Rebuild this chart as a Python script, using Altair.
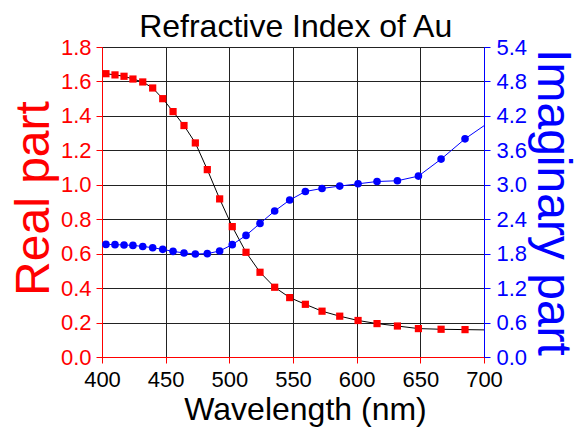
import altair as alt
import pandas as pd

# Wavelength (nm), real part n, imaginary part k
wavelength = [403.1, 410.2, 417.3, 424.3, 432.0, 439.8, 447.7, 455.8, 464.4, 473.3,
              482.7, 492.4, 502.3, 513.1, 524.1, 535.6, 547.4, 559.7, 572.8, 586.7,
              601.1, 616.0, 632.0, 648.5, 666.3, 685.1, 704.0]
real_part = [1.645, 1.638, 1.630, 1.614, 1.597, 1.562, 1.500, 1.425, 1.344, 1.243,
             1.088, 0.918, 0.757, 0.608, 0.492, 0.405, 0.345, 0.306, 0.266, 0.237,
             0.212, 0.194, 0.180, 0.165, 0.161, 0.159, 0.157]
imag_part = [1.961, 1.957, 1.951, 1.944, 1.926, 1.904, 1.875, 1.840, 1.812, 1.795,
             1.800, 1.847, 1.957, 2.118, 2.327, 2.543, 2.734, 2.883, 2.936, 2.977,
             3.017, 3.057, 3.070, 3.151, 3.447, 3.800, 4.090]

x_ticks = [400, 450, 500, 550, 600, 650, 700]
n_ticks = [0.0, 0.2, 0.4, 0.6, 0.8, 1.0, 1.2, 1.4, 1.6, 1.8]
k_ticks = [0.0, 0.6, 1.2, 1.8, 2.4, 3.0, 3.6, 4.2, 4.8, 5.4]
chart_title = ["Refractive Index of Au"]

df = pd.DataFrame({"wl": wavelength, "n": real_part, "k": imag_part})

FONT = "Liberation Sans"
RED = "#ff0000"
BLUE = "#0000ff"

x_enc = alt.X(
    "wl:Q",
    scale=alt.Scale(domain=[400, 700], nice=False, zero=False),
    axis=alt.Axis(
        values=x_ticks, format="d", title="Wavelength (nm)",
        grid=True, gridColor="#222222", gridWidth=1,
        domainColor=RED, tickColor=RED, tickSize=6,
        labelColor="black", labelFontSize=22, labelFont=FONT, labelPadding=6,
        labelFlush=False, labelOverlap=False,
        titleFont=FONT, titleFontSize=32, titleFontWeight="normal", titleColor="black",
        titleX=203, titleY=62, titleBaseline="alphabetic",
    ),
)

n_enc = alt.Y(
    "n:Q",
    scale=alt.Scale(domain=[0, 1.8], nice=False, zero=False),
    axis=alt.Axis(
        values=n_ticks, format=".1f", title="Real part", orient="left",
        grid=True, gridColor="#222222", gridWidth=1,
        domainColor=RED, tickColor=RED, tickSize=6,
        labelColor=RED, labelFontSize=22, labelFont=FONT, labelPadding=5,
        labelFlush=False, labelOverlap=False,
        titleColor=RED, titleFont=FONT, titleFontSize=48, titleFontWeight="normal",
        titleAngle=270, titleX=-54, titleY=151, titleBaseline="alphabetic",
        titleAlign="center",
    ),
)

k_enc = alt.Y(
    "k:Q",
    scale=alt.Scale(domain=[0, 5.4], nice=False, zero=False),
    axis=alt.Axis(
        values=k_ticks, format=".1f", title="Imaginary part", orient="right",
        grid=False,
        domainColor=BLUE, tickColor=BLUE, tickSize=6,
        labelColor=BLUE, labelFontSize=22, labelFont=FONT, labelPadding=6,
        labelFlush=False, labelOverlap=False,
        titleColor=BLUE, titleFont=FONT, titleFontSize=48, titleFontWeight="normal",
        titleAngle=90, titleX=53, titleY=155, titleBaseline="alphabetic",
        titleAlign="center",
    ),
)

base = alt.Chart(df)
in_range = alt.datum.wl <= 700

red_line = base.mark_line(color="black", strokeWidth=1, clip=True).encode(x=x_enc, y=n_enc)
red_pts = base.mark_square(color=RED, size=52, opacity=1, clip=True).encode(
    x=x_enc, y=n_enc).transform_filter(in_range)
blue_line = base.mark_line(color=BLUE, strokeWidth=1, clip=True).encode(x=x_enc, y=k_enc)
blue_pts = base.mark_circle(color=BLUE, size=58, opacity=1, clip=True).encode(
    x=x_enc, y=k_enc).transform_filter(in_range)

title_text = alt.Chart(pd.DataFrame({"t": chart_title})).mark_text(
    font=FONT, fontSize=32, color="black", align="center", baseline="alphabetic"
).encode(text="t:N", x=alt.value(193.7), y=alt.value(-10))

red_layer = alt.layer(red_line, red_pts)
blue_layer = alt.layer(blue_line, blue_pts)

chart = (
    alt.layer(red_layer, blue_layer, title_text)
    .resolve_scale(y="independent")
    .properties(
        width=382, height=310,
        autosize=alt.AutoSizeParams(type="none"),
        padding={"left": 102, "top": 47, "right": 100, "bottom": 72},
        background="white",
    )
    .configure_view(stroke=BLUE, strokeWidth=1)
)

chart.save("out.html", embed_options={"renderer": "svg", "actions": False})
